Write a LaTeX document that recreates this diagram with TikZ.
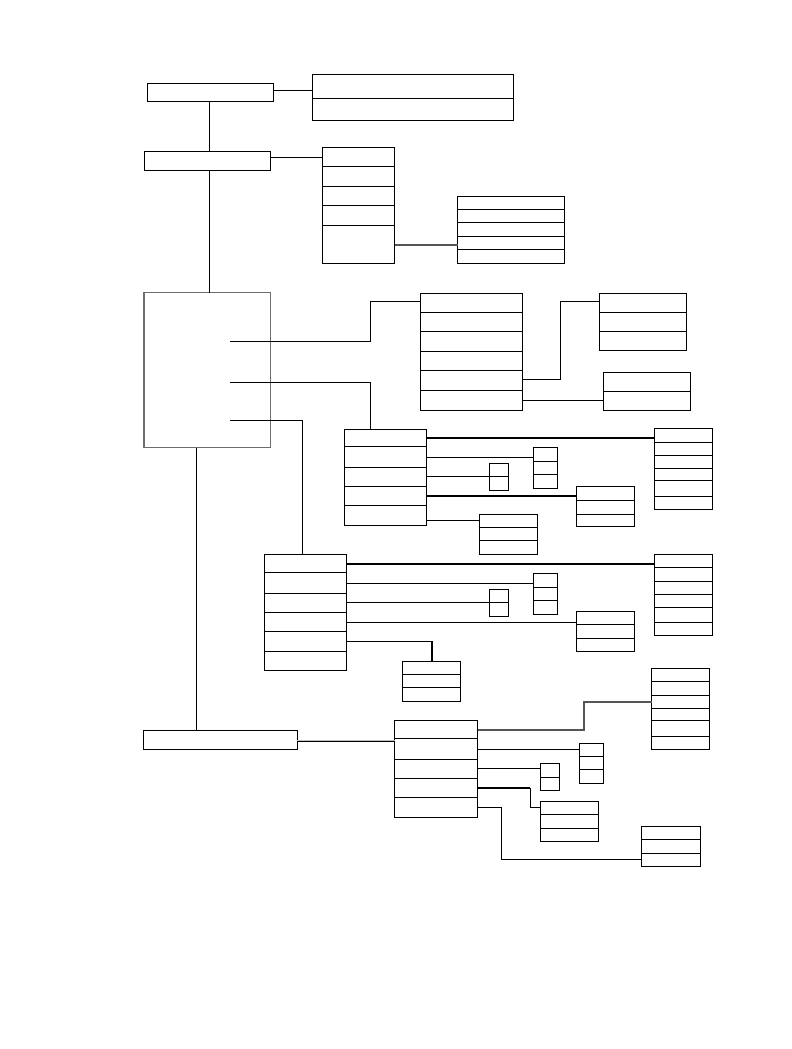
\documentclass[tikz,border=0pt]{standalone}
\usepackage{tikz}
\definecolor{boxline}{HTML}{000000}
\definecolor{midgray}{HTML}{555555}
\definecolor{softgray}{HTML}{6E6E6E}
\definecolor{palegray}{HTML}{BDBDBD}

% box with horizontal row dividers: name, x1, y1, x2, y2, divider list
\newcommand{\tabbox}[6]{%
  \node[tbox, minimum width={(#4-#2)*1pt}, minimum height={(#5-#3)*1pt}] (#1) at ({(#2+#4)/2},{(#3+#5)/2}) {};
  \foreach \d in {#6} {\draw[thinline] (#1.west |- 0,\d) -- (#1.east |- 0,\d);}
}

\begin{document}
\begin{tikzpicture}[x=1pt, y=-1pt,
  tbox/.style={draw=boxline, line width=1pt, inner sep=0pt, outer sep=0pt},
  thinline/.style={line width=1pt},
  heavyline/.style={line width=2pt},
  grayline/.style={line width=2pt, color=midgray},
  paleline/.style={line width=1.6pt, color=palegray}]

\useasboundingbox (0,0) rectangle (792,1049);

% Top level boxes
\node[tbox, minimum width=126pt, minimum height=18pt] (A) at (210,92) {};
\tabbox{B}{312}{74}{513}{120}{98}
\node[tbox, minimum width=126pt, minimum height=19pt] (C) at (207,160.5) {};
\tabbox{D}{322}{147}{394.5}{263}{166,186,205,225}
\tabbox{E}{457.5}{196}{564}{263.5}{209,222,236,249}

% Large central box
\node[tbox, draw=softgray, line width=1.2pt, minimum width=126.5pt, minimum height=155pt] (F) at (207.25,370) {};
\coordinate (f1) at (230,341.7);
\coordinate (f2) at (230,382);
\coordinate (f3) at (230,420);

% Upper right group
\tabbox{G}{420.5}{293.5}{522}{410}{312.5,331.5,351,370.5,390}
\tabbox{K}{599.5}{293.5}{686}{350.5}{312.5,331.5}
\tabbox{L}{603.5}{372.5}{690}{410}{391.5}

% Middle group
\tabbox{H}{344.5}{429.5}{426.5}{525}{446.5,467,486.5,505.5}
\tabbox{M}{654.5}{428.5}{712}{509}{442,455.5,468.5,480.5,496.5}
\tabbox{N}{533.5}{447.5}{557.5}{488}{461.5,474.5}
\tabbox{O}{489.5}{463.5}{508.5}{490}{476.5}
\tabbox{P}{576.5}{486.5}{634}{526}{500.5,514}
\tabbox{Q}{479.5}{514.5}{537.5}{554}{527.5,540.5}

% Lower middle group
\tabbox{I}{264.5}{554.5}{346}{670}{572.5,593.5,612.5,631.5,651.5}
\tabbox{R}{654.5}{554.5}{712}{635}{567.5,581.5,594.5,607,622.5}
\tabbox{S}{533.5}{573.5}{557.5}{614}{587.5,600.5}
\tabbox{T}{489.5}{589.5}{508.5}{616}{602.5}
\tabbox{U}{576.5}{611.5}{634}{651}{624.5,638}
\tabbox{V}{402.5}{661.5}{460}{701}{674.5,687.5}

% Bottom group
\node[tbox, minimum width=153.5pt, minimum height=18.5pt] (J) at (220.25,739.75) {};
\tabbox{W}{651.5}{668.5}{709.5}{749}{681.5,695,708.5,720.5,736.5}
\tabbox{X}{394.5}{720.5}{477.5}{817}{738.5,759,778.5,797.5}
\tabbox{Y}{579.5}{743.5}{603}{783}{756.5,769.5}
\tabbox{Z}{540.5}{763.5}{559.5}{790}{777}
\tabbox{AA}{540.5}{801.5}{598.5}{841}{814.5,828.5}
\tabbox{AB}{641.5}{826.5}{700.5}{866}{839.5,853}

% Connectors, top
\draw[thinline] (A.east |- 0,90.3) -- (B.west |- 0,90.3);
\draw[thinline] (209,0 |- A.south) -- (209,0 |- C.north);
\draw[thinline] (C.east |- 0,157.5) -- (D.west |- 0,157.5);
\draw[grayline] (D.east |- 0,245) -- (E.west |- 0,245);
\draw[thinline] (209,0 |- C.south) -- (209,0 |- F.north);

% Connectors from central box
\draw[line width=1.4pt] (f1) -- (370.7,341.7) -- (370.7,301.7) -- (G.west |- 0,301.7);
\draw[thinline] (f2) -| (370.7,0 |- H.north);
\draw[thinline] (f3) -| (302.7,0 |- I.north);
\draw[thinline] (196,0 |- F.south) -- (196,0 |- J.north);

% Connectors, upper right
\draw[thinline] (G.east |- 0,379.3) -- (560.7,379.3) -- (560.7,301.7) -- (K.west |- 0,301.7);
\draw[thinline] (G.east |- 0,400.3) -- (L.west |- 0,400.3);

% Connectors, middle
\draw[heavyline] (H.east |- 0,437.7) -- (M.west |- 0,437.7);
\draw[thinline] (H.east |- 0,457.3) -- (N.west |- 0,457.3);
\draw[thinline] (H.east |- 0,476.3) -- (O.west |- 0,476.3);
\draw[heavyline] (H.east |- 0,496) -- (P.west |- 0,496);
\draw[thinline] (H.east |- 0,520) -- (Q.west |- 0,520);

% Connectors, lower middle
\draw[heavyline] (I.east |- 0,564) -- (R.west |- 0,564);
\draw[thinline] (I.east |- 0,583.3) -- (S.west |- 0,583.3);
\draw[thinline] (I.east |- 0,602.3) -- (T.west |- 0,602.3);
\draw[thinline] (I.east |- 0,622.3) -- (U.west |- 0,622.3);
\draw[thinline] (I.east |- 0,641.3) -- (432,641.3);
\draw[heavyline] (432,641.3) -- (432,0 |- V.north);

% Connectors, bottom
\draw[paleline] (J.east |- 0,741) -- (X.west |- 0,741);
\draw[thinline] (J.east |- 0,741) -- (X.west |- 0,741);
\draw[grayline] (X.east |- 0,729.7) -- (583.6,729.7) -- (583.6,701.7) -- (W.west |- 0,701.7);
\draw[thinline] (X.east |- 0,749.3) -- (Y.west |- 0,749.3);
\draw[thinline] (X.east |- 0,768.3) -- (Z.west |- 0,768.3);
\draw[heavyline] (X.east |- 0,787.7) -- (530.3,787.7);
\draw[thinline] (530.3,787.7) -- (530.3,807.3) -- (AA.west |- 0,807.3);
\draw[thinline] (X.east |- 0,807) -- (501.4,807) -- (501.4,859.3) -- (AB.west |- 0,859.3);

\end{tikzpicture}
\end{document}
